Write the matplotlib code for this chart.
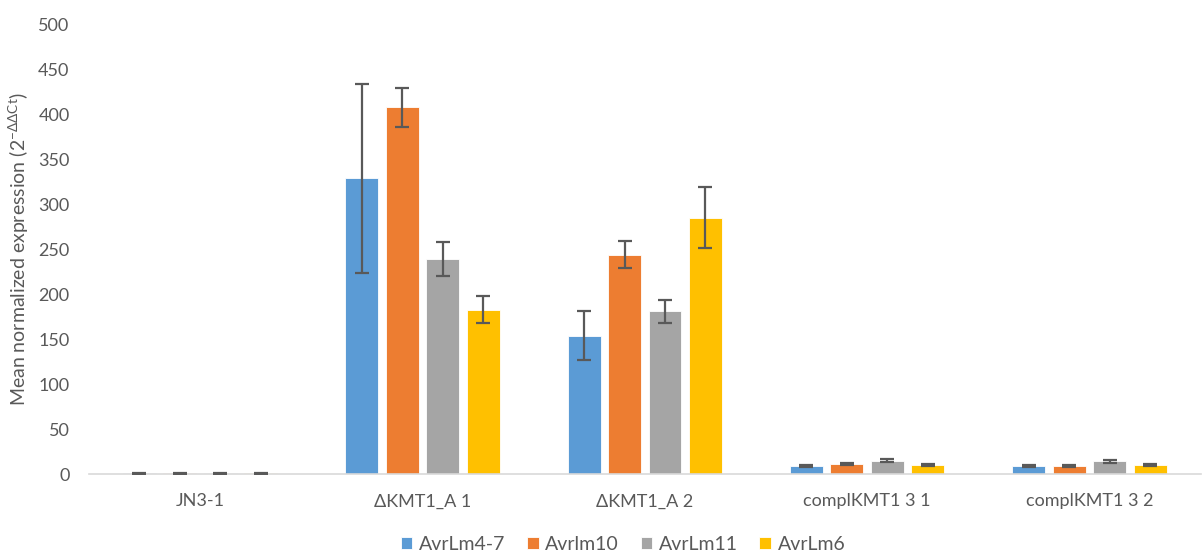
import matplotlib
matplotlib.use("Agg")
import matplotlib.pyplot as plt
import numpy as np

categories = ["JN3-1", "ΔKMT1_A 1", "ΔKMT1_A 2", "complKMT1 3 1", "complKMT1 3 2"]
series_names = ["AvrLm4-7", "Avrlm10", "AvrLm11", "AvrLm6"]
avrlm4_7 = [1, 329, 154, 9, 9]
avrlm10 = [1, 408, 244, 11, 9]
avrlm11 = [1, 239, 181, 15, 14]
avrlm6 = [1, 183, 285, 10, 10]
err4_7 = [0.5, 105, 27, 1.5, 1.2]
err10 = [0.5, 22, 15, 1.5, 1.5]
err11 = [0.5, 19, 13, 1.2, 1.2]
err6 = [0.5, 15, 34, 1.2, 1.2]
colors = ["#5B9BD5", "#ED7D31", "#A5A5A5", "#FFC000"]
yticks = [0, 50, 100, 150, 200, 250, 300, 350, 400, 450, 500]

plt.rcParams['font.family'] = ['Lato', 'DejaVu Sans']

fig = plt.figure(figsize=(12.03, 5.54), dpi=100)
ax = fig.add_axes([0.074, 0.1444, 0.924, 0.811])

values = [avrlm4_7, avrlm10, avrlm11, avrlm6]
errs = [err4_7, err10, err11, err6]
x = np.arange(len(categories))
step = 0.182
width = 0.148
for i, (v, e, c, n) in enumerate(zip(values, errs, colors, series_names)):
    xs = x + (i - 1.5) * step
    ax.bar(xs, v, width=width, color=c, label=n, edgecolor="white", linewidth=0.6, zorder=2)
    ax.errorbar(xs, v, yerr=e, fmt="none", ecolor="#595959", elinewidth=1.6,
                capsize=5, capthick=1.6, zorder=3)

ax.set_xlim(-0.5, len(categories) - 0.5)
ax.set_ylim(0, 500)
ax.set_yticks(yticks)
ax.set_xticks(x)
ax.set_xticklabels(categories)
for s in ["top", "right", "left"]:
    ax.spines[s].set_visible(False)
ax.spines["bottom"].set_color("#D9D9D9")
ax.spines["bottom"].set_linewidth(1.2)
ax.tick_params(axis="both", length=0, colors="#595959", labelsize=13)
ax.tick_params(axis="x", pad=14)
ax.tick_params(axis="y", pad=14)
ax.set_ylabel("Mean normalized expression (2$^{\\mathregular{-ΔΔCt}}$)", color="#595959",
              fontsize=14, labelpad=5)

handles, labels = ax.get_legend_handles_labels()
fig.legend(handles, labels, loc="lower center", bbox_to_anchor=(0.518, -0.03), ncol=4,
           frameon=False, fontsize=14, handlelength=0.6, handleheight=0.6,
           handletextpad=0.35, columnspacing=1.1, labelcolor="#595959")

fig.savefig("out.png", dpi=100)
